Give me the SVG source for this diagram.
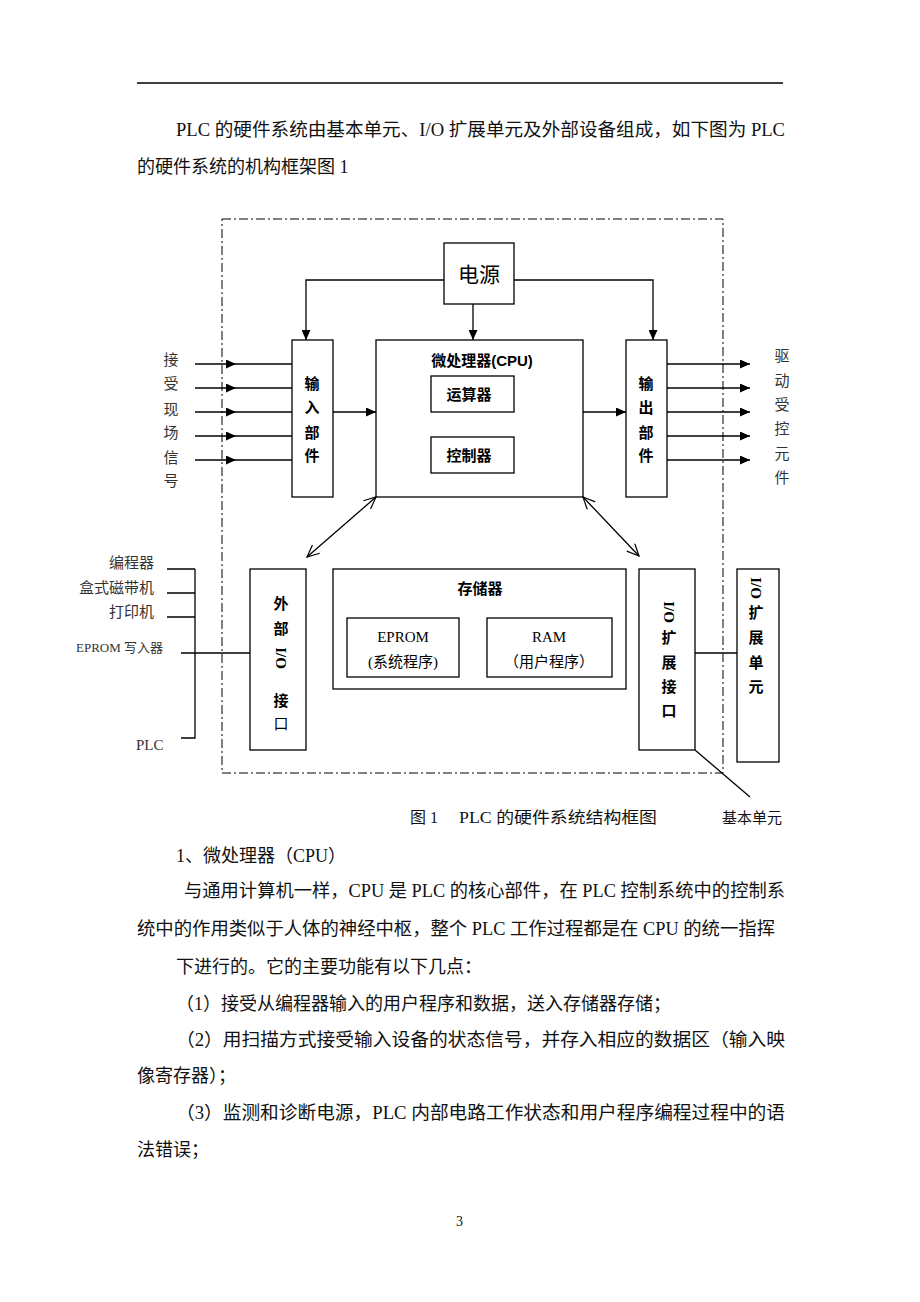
<svg xmlns="http://www.w3.org/2000/svg" width="920" height="1302" viewBox="0 0 920 1302">
<style>
.body{font-family:"Liberation Serif","Noto Sans CJK SC",serif;font-size:18px;fill:#111}
.lbl{font-family:"Liberation Serif","Noto Sans CJK SC",serif;font-size:15px;fill:#333}
.nd{font-family:"Liberation Sans","Noto Sans CJK SC",sans-serif;font-size:15px;fill:#000;text-anchor:middle;dominant-baseline:central}
.sf{font-family:"Liberation Serif","Noto Sans CJK SC",serif}
.gr{fill:#333}
.b{font-weight:bold}
.box{fill:none;stroke:#000;stroke-width:1.3}
.ln{fill:none;stroke:#000;stroke-width:1.3}
.dd{fill:none;stroke:#000;stroke-width:1;stroke-dasharray:9,3,2,3}
</style>
<defs>
<marker id="tri" markerUnits="userSpaceOnUse" markerWidth="10" markerHeight="9" refX="10" refY="4.5" orient="auto"><path d="M0,0 L10,4.5 L0,9 z" fill="#000"/></marker>
<marker id="open" markerUnits="userSpaceOnUse" markerWidth="14" markerHeight="12" refX="13" refY="6" orient="auto-start-reverse"><path d="M1,0.5 L13,6 L1,11.5" fill="none" stroke="#000" stroke-width="1.2"/></marker>
</defs>
<rect width="920" height="1302" fill="#fff"/>
<line x1="137" y1="83" x2="783" y2="83" stroke="#000" stroke-width="1.3"/>

<g id="intro">
<text class="body" x="176" y="136" textLength="609" lengthAdjust="spacingAndGlyphs">PLC 的硬件系统由基本单元、I/O 扩展单元及外部设备组成，如下图为 PLC</text>
<text class="body" x="137" y="173">的硬件系统的机构框架图 1</text>
</g>

<g id="boundary"><rect class="dd" x="222" y="219" width="501" height="554"/></g>

<g id="connectors">
<path class="ln" d="M444,280 H306 V340" marker-end="url(#tri)"/>
<path class="ln" d="M514,280 H653 V340" marker-end="url(#tri)"/>
<line class="ln" x1="473" y1="304" x2="473" y2="340" marker-end="url(#tri)"/>
<line class="ln" x1="195" y1="364" x2="236" y2="364" marker-end="url(#tri)"/><line class="ln" x1="236" y1="364" x2="292" y2="364"/>
<line class="ln" x1="195" y1="388" x2="236" y2="388" marker-end="url(#tri)"/><line class="ln" x1="236" y1="388" x2="292" y2="388"/>
<line class="ln" x1="195" y1="412" x2="236" y2="412" marker-end="url(#tri)"/><line class="ln" x1="236" y1="412" x2="292" y2="412"/>
<line class="ln" x1="195" y1="436" x2="236" y2="436" marker-end="url(#tri)"/><line class="ln" x1="236" y1="436" x2="292" y2="436"/>
<line class="ln" x1="195" y1="460" x2="236" y2="460" marker-end="url(#tri)"/><line class="ln" x1="236" y1="460" x2="292" y2="460"/>
<line class="ln" x1="333" y1="412" x2="376" y2="412" marker-end="url(#tri)"/>
<line class="ln" x1="583" y1="412" x2="626" y2="412" marker-end="url(#tri)"/>
<line class="ln" x1="667" y1="364" x2="750" y2="364" marker-end="url(#tri)"/>
<line class="ln" x1="667" y1="388" x2="750" y2="388" marker-end="url(#tri)"/>
<line class="ln" x1="667" y1="412" x2="750" y2="412" marker-end="url(#tri)"/>
<line class="ln" x1="667" y1="436" x2="750" y2="436" marker-end="url(#tri)"/>
<line class="ln" x1="667" y1="460" x2="750" y2="460" marker-end="url(#tri)"/>
<line class="ln" x1="376" y1="497" x2="307" y2="557" marker-start="url(#open)" marker-end="url(#open)"/>
<line class="ln" x1="583" y1="497" x2="639" y2="556" marker-start="url(#open)" marker-end="url(#open)"/>
<path class="ln" d="M167,569 H195 M167,593 H195 M167,617 H195 M195,569 V738 H181"/>
<line class="ln" x1="181" y1="653" x2="250" y2="653"/>
<line class="ln" x1="695" y1="653" x2="737" y2="653"/>
<line class="ln" x1="695" y1="750" x2="750" y2="797"/>
</g>

<g id="power"><rect class="box" x="444" y="243" width="70" height="61"/><text class="nd" x="479" y="274" style="font-size:21px">电源</text></g>

<g id="input"><rect class="box" x="292" y="340" width="41" height="157"/>
<text class="nd b" x="312" y="383">输</text><text class="nd b" x="312" y="407">入</text><text class="nd b" x="312" y="432">部</text><text class="nd b" x="312" y="455">件</text></g>

<g id="cpu"><rect class="box" x="376" y="340" width="207" height="157"/>
<text class="nd b" x="482" y="360">微处理器(CPU)</text></g>
<g id="alu"><rect class="box" x="431" y="376" width="83" height="36"/><text class="nd b" x="469" y="394">运算器</text></g>
<g id="ctrl"><rect class="box" x="431" y="437" width="83" height="36"/><text class="nd b" x="469" y="455">控制器</text></g>

<g id="output"><rect class="box" x="626" y="340" width="41" height="157"/>
<text class="nd b" x="646" y="383">输</text><text class="nd b" x="646" y="407">出</text><text class="nd b" x="646" y="432">部</text><text class="nd b" x="646" y="455">件</text></g>

<g id="in-label">
<text class="nd gr" x="171" y="359">接</text><text class="nd gr" x="171" y="383">受</text><text class="nd gr" x="171" y="409">现</text><text class="nd gr" x="171" y="432">场</text><text class="nd gr" x="171" y="457">信</text><text class="nd gr" x="171" y="480">号</text>
</g>
<g id="out-label">
<text class="nd gr" x="782" y="355">驱</text><text class="nd gr" x="782" y="380">动</text><text class="nd gr" x="782" y="404">受</text><text class="nd gr" x="782" y="428">控</text><text class="nd gr" x="782" y="453">元</text><text class="nd gr" x="782" y="477">件</text>
</g>

<g id="devices">
<text class="lbl" x="154" y="568" text-anchor="end">编程器</text>
<text class="lbl" x="154" y="593" text-anchor="end">盒式磁带机</text>
<text class="lbl" x="154" y="617" text-anchor="end">打印机</text>
<text class="lbl" x="76" y="652" style="font-size:13px">EPROM 写入器</text>
<text class="lbl" x="136" y="750">PLC</text>
</g>

<g id="ext-io"><rect class="box" x="250" y="569" width="56" height="181"/>
<text class="nd b" x="281" y="603">外</text><text class="nd b" x="281" y="628">部</text>
<text class="nd b sf" x="0" y="0" transform="translate(281,658) rotate(90)">I/O</text>
<text class="nd b" x="281" y="700">接</text><text class="nd" x="281" y="723">口</text></g>

<g id="memory"><rect class="box" x="333" y="569" width="293" height="120"/>
<text class="nd b" x="480" y="588">存储器</text></g>
<g id="eprom"><rect class="box" x="347" y="618" width="112" height="59"/>
<text class="nd sf" x="403" y="637">EPROM</text>
<text class="nd sf" x="403" y="662">(系统程序)</text></g>
<g id="ram"><rect class="box" x="487" y="618" width="125" height="59"/>
<text class="nd sf" x="549" y="637">RAM</text>
<text class="nd sf" x="549" y="662">（用户程序）</text></g>

<g id="io-ext-if"><rect class="box" x="639" y="569" width="56" height="181"/>
<text class="nd b sf" x="0" y="0" transform="translate(669,612) rotate(90)">I/O</text>
<text class="nd b" x="669" y="637">扩</text><text class="nd b" x="669" y="662">展</text><text class="nd b" x="669" y="686">接</text><text class="nd b" x="669" y="710">口</text></g>

<g id="io-ext-unit"><rect class="box" x="737" y="569" width="42" height="193"/>
<text class="nd b sf" x="0" y="0" transform="translate(756,588) rotate(90)">I/O</text>
<text class="nd b" x="756" y="612">扩</text><text class="nd b" x="756" y="637">展</text><text class="nd b" x="756" y="662">单</text><text class="nd b" x="756" y="686">元</text></g>

<g id="caption">
<text class="body" x="410" y="823" style="font-size:16px">图 1</text>
<text class="body" x="459" y="823" style="font-size:16px" textLength="198" lengthAdjust="spacingAndGlyphs">PLC 的硬件系统结构框图</text>
<text class="body" x="722" y="823" style="font-size:15px">基本单元</text>
</g>

<g id="text">
<text class="body" x="176" y="862">1、微处理器（CPU）</text>
<text class="body" x="184" y="897" textLength="601" lengthAdjust="spacingAndGlyphs">与通用计算机一样，CPU 是 PLC 的核心部件，在 PLC 控制系统中的控制系</text>
<text class="body" x="137" y="935" textLength="638" lengthAdjust="spacingAndGlyphs">统中的作用类似于人体的神经中枢，整个 PLC 工作过程都是在 CPU 的统一指挥</text>
<text class="body" x="176" y="973">下进行的。它的主要功能有以下几点：</text>
<text class="body" x="176" y="1010">（1）接受从编程器输入的用户程序和数据，送入存储器存储；</text>
<text class="body" x="176" y="1046" textLength="609" lengthAdjust="spacingAndGlyphs">（2）用扫描方式接受输入设备的状态信号，并存入相应的数据区（输入映</text>
<text class="body" x="137" y="1082">像寄存器）；</text>
<text class="body" x="176" y="1119" textLength="609" lengthAdjust="spacingAndGlyphs">（3）监测和诊断电源，PLC 内部电路工作状态和用户程序编程过程中的语</text>
<text class="body" x="137" y="1156">法错误；</text>
<text class="body" x="456" y="1226" style="font-size:14px">3</text>
</g>
</svg>
